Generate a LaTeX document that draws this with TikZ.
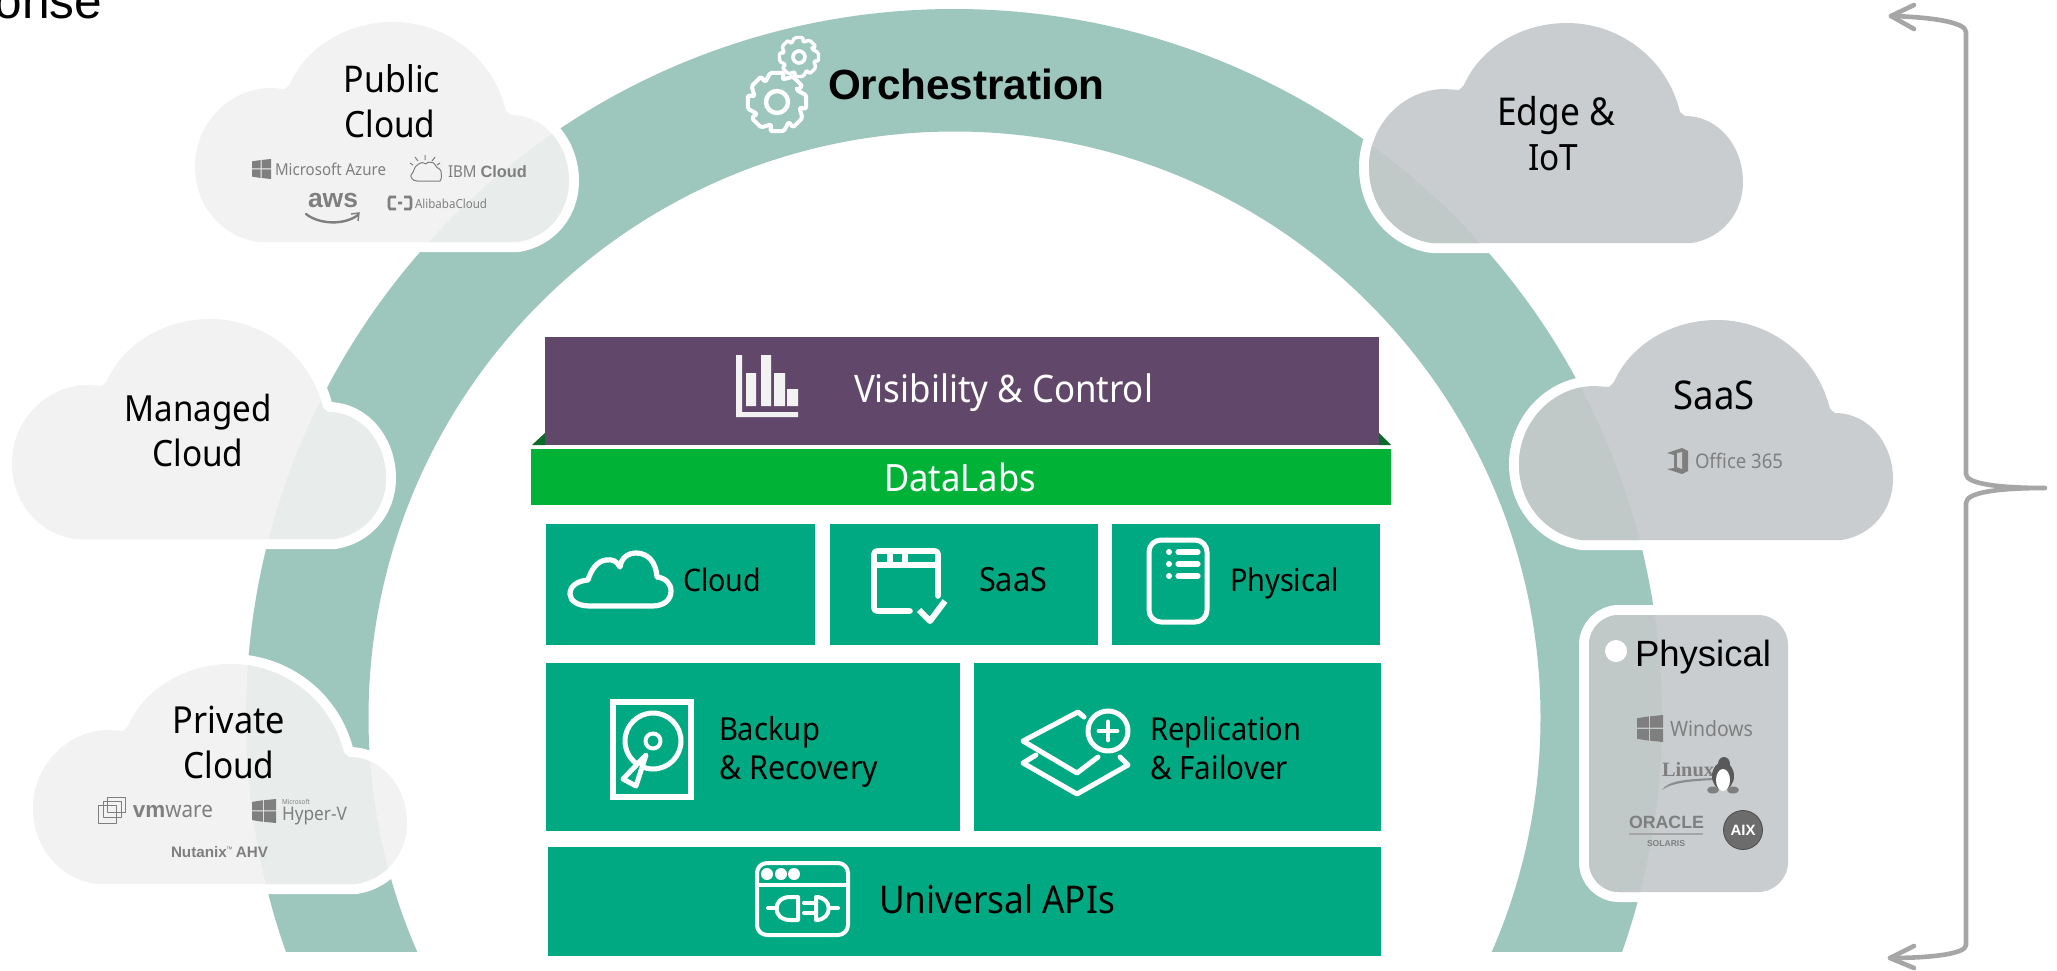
\documentclass[tikz,border=0pt]{standalone}
\usepackage{fontspec}
\usepackage{graphicx}
\setmainfont[FakeStretch=0.92]{Noto Sans}
\newfontfamily\arialf{Liberation Sans}
\newfontfamily\timesf{Liberation Serif}
\newcommand\hv[1]{{\arialf\bfseries #1}}
\definecolor{ringc}{HTML}{9DC6BD}
\definecolor{lightc}{HTML}{F2F2F2}
\definecolor{lighttint}{HTML}{E8ECEB}
\definecolor{darkc}{HTML}{C9CDCF}
\definecolor{darktint}{HTML}{C0C9C8}
\definecolor{tealc}{HTML}{00A982}
\definecolor{greenc}{HTML}{00B336}
\definecolor{dgreenc}{HTML}{0B6B2A}
\definecolor{purplec}{HTML}{61486A}
\definecolor{bracec}{HTML}{A6A6A6}
\definecolor{logoc}{HTML}{7F7F7F}
\newcommand\fitw[2]{\resizebox{\dimexpr #1pt/2\relax}{!}{#2}}
\newcommand\ringpath{(954,717) circle [radius=708] (954.5,717.5) circle [radius=586]}
\newcommand\cloudpath{(63,220) -- (323,220) .. controls (353,215) and (374,190) .. (374,159) .. controls (374,124) and (350,93) .. (316,93) -- (311,89) .. controls (298,35) and (250,0) .. (198,0) .. controls (150,0) and (110,27) .. (95,62) -- (90,67) -- (76,66) .. controls (34,66) and (0,102) .. (0,144) .. controls (0,185) and (28,215) .. (63,220) -- cycle}
\newcommand\cloudat[4]{%
  \begin{scope}[shift={(#1,#2)}]
    \fill[white,draw=white,line width=10pt,line join=round] \cloudpath;
    \fill[#3] \cloudpath;
    \begin{scope}
      \clip \cloudpath;
      \begin{scope}[shift={(-#1,-#2)}]
        \fill[#4,even odd rule] \ringpath;
      \end{scope}
    \end{scope}
  \end{scope}}
\newcommand\winflag[5][logoc]{%
  \begin{scope}[shift={(#2,#3)},xscale=#4,yscale=#5]
    \fill[#1] (0,.12)--(.46,.05)--(.46,.47)--(0,.47)--cycle;
    \fill[#1] (.5,.05)--(1,0)--(1,.47)--(.5,.47)--cycle;
    \fill[#1] (0,.52)--(.46,.52)--(.46,.95)--(0,.88)--cycle;
    \fill[#1] (.5,.52)--(1,.52)--(1,1)--(.5,.95)--cycle;
  \end{scope}}
\newcommand\gearat[5]{%
  \begin{scope}[shift={(#1,#2)}]
    \draw[iconline,line width=#5,rounded corners=.8pt] (-31:#4) \foreach \a in {0,45,...,315} { -- (\a-31:#4) -- (\a-13:#3) -- (\a+13:#3) } -- cycle;
  \end{scope}}
\tikzset{
  lbl/.style={inner sep=0pt,outer sep=0pt,text=black,font=\normalsize},
  lblw/.style={lbl,text=white},
  logo/.style={inner sep=0pt,outer sep=0pt,text=logoc},
  iconline/.style={draw=white,line width=2.5pt,line cap=round,line join=round},
  thinlogo/.style={draw=logoc,line width=.5pt,line join=round},
  brace/.style={draw=bracec,line width=2.3pt,line cap=round,line join=round},
  tealbox/.style={fill=tealc}
}
\begin{document}
\begin{tikzpicture}[x=.5pt,y=-.5pt]
\clip (0,0) rectangle (2057,970);
\fill[white] (0,0) rectangle (2057,970);
% arch
\begin{scope}
  \clip (0,0) rectangle (2057,951);
  \fill[ringc,even odd rule] \ringpath;
\end{scope}
\node[lbl,anchor=base east] (onse) at (102,18) {\arialf\fontsize{24.8pt}{26pt}\selectfont onse};
% clouds
\cloudat{195}{22}{lightc}{lighttint}
\cloudat{12}{319}{lightc}{lighttint}
\cloudat{33}{664}{lightc}{lighttint}
\cloudat{1369}{23}{darkc}{darktint}
\cloudat{1519}{320}{darkc}{darktint}
% physical card
\fill[white,draw=white,line width=10pt,rounded corners=15pt] (1589,615) rectangle (1788,892);
\fill[darkc,rounded corners=15pt] (1589,615) rectangle (1788,892);
\begin{scope}
  \clip[rounded corners=15pt] (1589,615) rectangle (1788,892);
  \fill[darktint,even odd rule] \ringpath;
\end{scope}
\fill[white] (1616,651) circle [radius=11];
% cloud labels
\node[lbl,anchor=base] (pub1) at (392,92) {\fitw{96}{Public}};
\node[lbl,anchor=base] (pub2) at (390,137) {\fitw{91}{Cloud}};
\node[lbl,anchor=base] (man1) at (198,421) {\fitw{147}{Managed}};
\node[lbl,anchor=base] (man2) at (198,466) {\fitw{91}{Cloud}};
\node[lbl,anchor=base] (pri1) at (229,733) {\fitw{112}{Private}};
\node[lbl,anchor=base] (pri2) at (229,778) {\fitw{91}{Cloud}};
\node[lbl,anchor=base] (edg1) at (1556,125) {\fitw{118}{Edge \&}};
\node[lbl,anchor=base] (edg2) at (1553,170) {\fitw{50}{IoT}};
\node[lbl,anchor=base] (saa1) at (1714,409) {\fitw{81}{SaaS}};
\node[lbl,anchor=base west] (phy1) at (1635,666) {\arialf\fontsize{18.25pt}{20pt}\selectfont Physical};
% public logos
\winflag{252}{159}{19}{20}
\node[logo,anchor=base west] (azure) at (275,175) {\fitw{111}{Microsoft Azure}};
\draw[thinlogo,rounded corners=2pt] (417,181) -- (436,181) .. controls (442,181) and (442,170) .. (436,168) .. controls (434,162) and (428,162) .. (426,166) .. controls (422,161) and (415,166) .. (414,172) .. controls (410,176) and (412,181) .. (417,181);
\draw[thinlogo] (425,160) -- (425,155) (418,161) -- (415,157) (432,161) -- (435,157) (413,165) -- (410,163) (437,165) -- (440,163);
\node[logo,anchor=base west] (ibm) at (448,177) {\fitw{79}{IBM \hv{Cloud}}};
\node[logo,anchor=base] (aws) at (333,207) {\fitw{50}{\hv{aws}}};
\draw[logoc,line width=1.2pt,line cap=round] (306,214) .. controls (320,225) and (345,225) .. (358,215);
\draw[logoc,line width=.7pt] (351,214) -- (359,213) -- (358,221);
\draw[logoc,line width=1.3pt] (396,197) -- (390,197) -- (389,199) -- (389,207) -- (390,209) -- (396,209) (404,197) -- (410,197) -- (411,199) -- (411,207) -- (410,209) -- (404,209) (398,203) -- (402,203);
\node[logo,anchor=base west] (alibaba) at (415,208) {\fitw{72}{AlibabaCloud}};
% private logos
\draw[thinlogo] (98,805) rectangle (116,823) (103,801) rectangle (121,817) (107,797) rectangle (125,812);
\node[logo,anchor=base west] (vmw) at (133,817) {\fitw{80}{\hv{vm}ware}};
\winflag{252}{799}{24}{24}
\node[logo,anchor=base west] (hymi) at (282,804) {\fitw{28}{Microsoft}};
\node[logo,anchor=base west] (hyv) at (282,820) {\fitw{65}{Hyper-V}};
\node[logo,anchor=base west] (nut) at (171,857) {\fitw{97}{\hv{Nutanix}\raisebox{.6ex}{\tiny ™} \hv{AHV}}};
% office
\fill[logoc] (1667,453) -- (1682,448) -- (1688,451) -- (1688,471) -- (1682,474) -- (1667,469) -- (1674,468) -- (1674,455) -- cycle;
\fill[darkc] (1677,453) -- (1682,452) -- (1682,469) -- (1677,467) -- cycle;
\node[logo,anchor=base west] (off) at (1695,468) {\fitw{88}{Office 365}};
% physical logos
\winflag{1637}{715}{26}{27}
\node[logo,anchor=base west] (win) at (1670,736) {\fitw{83}{Windows}};
\node[logo,anchor=base west] (lin) at (1662,776) {\fitw{52}{\timesf\bfseries Linux}};
\fill[logoc!90] (1662,790) .. controls (1668,780) and (1690,779) .. (1714,778) -- (1714,780) .. controls (1695,781) and (1672,782) .. (1662,790) -- cycle;
\fill[logoc!70!black] (1723,776) ellipse [x radius=11,y radius=14];
\fill[logoc!70!black] (1724,764) ellipse [x radius=6,y radius=7];
\fill[white] (1723,780) ellipse [x radius=7,y radius=11];
\fill[logoc] (1713,790) ellipse [x radius=6,y radius=3.5] (1733,790) ellipse [x radius=6,y radius=3.5];
\node[logo,anchor=base west] (ora) at (1629,828) {\fitw{75}{\hv{ORACLE}}};
\draw[logoc!70,line width=.6pt] (1629,834) -- (1703,834);
\node[logo,anchor=base] (sol) at (1666,846) {\fitw{38}{\hv{SOLARIS}}};
\fill[logoc!85!black,draw=logoc!60!black,line width=.4pt] (1743,830) circle [radius=19.5];
\node[lblw,anchor=base] (aix) at (1743,835) {\fitw{25}{\hv{AIX}}};
% orchestration
\gearat{777}{102}{30}{23}{2pt}
\draw[iconline,line width=2.2pt] (777,102) circle [radius=11];
\gearat{799}{57}{20}{15}{1.7pt}
\draw[iconline,line width=1.8pt] (799,57) circle [radius=6];
\node[lbl,anchor=base west] (orch) at (828,99) {\arialf\bfseries\fontsize{21.1pt}{23pt}\selectfont Orchestration};
% stack boxes
\fill[dgreenc] (532,445) -- (545,433) -- (545,445) -- cycle (1379,433) -- (1391,445) -- (1379,445) -- cycle;
\node[fill=purplec,inner sep=0pt,minimum width=417pt,minimum height=54pt,anchor=north west] (vis) at (545,337) {};
\node[fill=greenc,inner sep=0pt,minimum width=430pt,minimum height=28pt,anchor=north west] (dl) at (531,449) {};
\node[tealbox,inner sep=0pt,minimum width=134.5pt,minimum height=60.5pt,anchor=north west] (b1) at (546,524) {};
\node[tealbox,inner sep=0pt,minimum width=134pt,minimum height=60.5pt,anchor=north west] (b2) at (830,524) {};
\node[tealbox,inner sep=0pt,minimum width=134pt,minimum height=60.5pt,anchor=north west] (b3) at (1112,524) {};
\node[tealbox,inner sep=0pt,minimum width=207pt,minimum height=84pt,anchor=north west] (b4) at (546,663) {};
\node[tealbox,inner sep=0pt,minimum width=203.5pt,minimum height=84pt,anchor=north west] (b5) at (974,663) {};
\node[tealbox,inner sep=0pt,minimum width=416.5pt,minimum height=54.5pt,anchor=north west] (b6) at (548,847) {};
% stack labels
\node[lblw,anchor=base west] (visl) at (854,402) {\fitw{299}{Visibility \& Control}};
\node[lblw,anchor=base] (dll) at (960,491) {\fitw{152}{DataLabs}};
\node[lbl,anchor=base west] (cl) at (683,591) {\fitw{78}{Cloud}};
\node[lbl,anchor=base west] (sl) at (979,591) {\fitw{68}{SaaS}};
\node[lbl,anchor=base west] (pl) at (1230,591) {\fitw{109}{Physical}};
\node[lbl,anchor=base west] (bk1) at (719,740) {\fitw{101}{Backup}};
\node[lbl,anchor=base west] (bk2) at (719,779) {\fitw{159}{\& Recovery}};
\node[lbl,anchor=base west] (rp1) at (1150,740) {\fitw{151}{Replication}};
\node[lbl,anchor=base west] (rp2) at (1150,779) {\fitw{138}{\& Failover}};
\node[lbl,anchor=base west] (ua) at (879,913) {\fitw{236}{Universal APIs}};
% bar chart icon
\fill[lightc] (736,355) rectangle (742,417) (736,412) rectangle (798,417);
\fill[lightc] (746,373) rectangle (756,406) (761,355) rectangle (771,406) (774,373) rectangle (785,406) (787,389) rectangle (798,406);
% cloud icon
\draw[iconline,line width=2.6pt] (590,606) -- (652,606) .. controls (664,606) and (671,600) .. (671,591) .. controls (671,583) and (665,578) .. (657,577) .. controls (656,562) and (648,553) .. (636,553) .. controls (627,553) and (621,559) .. (620,567) .. controls (617,561) and (612,559) .. (606,560) .. controls (597,561) and (591,570) .. (588,580) .. controls (577,581) and (570,586) .. (570,594) .. controls (570,601) and (578,606) .. (590,606) -- cycle;
% window icon
\draw[iconline,line width=2.8pt,rounded corners=1.5pt] (938,596) -- (938,551) -- (874,551) -- (874,611) -- (910,611);
\draw[iconline,line width=3pt,line cap=butt] (874,565) -- (938,565);
\draw[iconline,line width=2.6pt,line cap=butt] (890,551) -- (890,565) (905,551) -- (905,565);
\draw[iconline,line width=3pt,line cap=butt] (919,610) -- (930,621) -- (945,601);
% server icon
\draw[iconline,rounded corners=6pt] (1149,540) rectangle (1207,622);
\draw[iconline,line width=2.6pt] (1178,552) -- (1198,552) (1178,564) -- (1198,564) (1178,576) -- (1198,576);
\fill[white] (1169,552) circle [radius=3] (1169,564) circle [radius=3] (1169,576) circle [radius=3];
% disk icon
\draw[iconline,line width=3pt,line cap=butt,line join=miter] (612.5,702) rectangle (691,797);
\draw[iconline] (653,741) circle [radius=28];
\draw[iconline,line width=2pt] (653,741) circle [radius=7.5];
\draw[iconline,fill=tealc] (646,755) -- (623,779) -- (636,786) -- cycle;
% layers icon
\draw[iconline] (1084,717) -- (1078,712) -- (1023,741) -- (1077,773) -- (1098,757);
\draw[iconline] (1036,755) -- (1023,763) -- (1077,794) -- (1128,765) -- (1120,757);
\draw[iconline,fill=tealc] (1108,731) circle [radius=20];
\draw[iconline,line width=2.4pt] (1099,731) -- (1117,731) (1108,722) -- (1108,740);
% api icon
\draw[iconline,line width=2pt,rounded corners=5pt] (757,863) rectangle (848,935);
\draw[iconline,line width=2pt] (757,885) -- (848,885);
\fill[white] (767,874) circle [radius=6] (781,874) circle [radius=6] (794,874) circle [radius=6];
\draw[iconline,line width=2pt] (798,897) -- (790,897) .. controls (772,897) and (772,920) .. (790,920) -- (798,920) -- cycle;
\draw[iconline,line width=2pt] (816,897) -- (816,920) .. controls (833,920) and (833,897) .. (816,897) -- cycle;
\draw[iconline,line width=2pt] (768,908) -- (777,908) (829,908) -- (838,908) (804,903) -- (816,903) (804,913) -- (816,913);
% brace
\coordinate (btip) at (1891,16);
\coordinate (bmid) at (2045,488);
\coordinate (bend) at (1890,958);
\draw[brace] (btip) .. controls (1930,17) and (1966,22) .. (1966,32) -- (1966,474) .. controls (1966,484) and (2000,488) .. (bmid) .. controls (2000,488) and (1966,492) .. (1966,503) -- (1966,945) .. controls (1966,954) and (1930,958) .. (bend);
\draw[brace] (1914,5) -- (btip) -- (1914,29);
\draw[brace] (1914,946) -- (bend) -- (1914,968);
\end{tikzpicture}
\end{document}
